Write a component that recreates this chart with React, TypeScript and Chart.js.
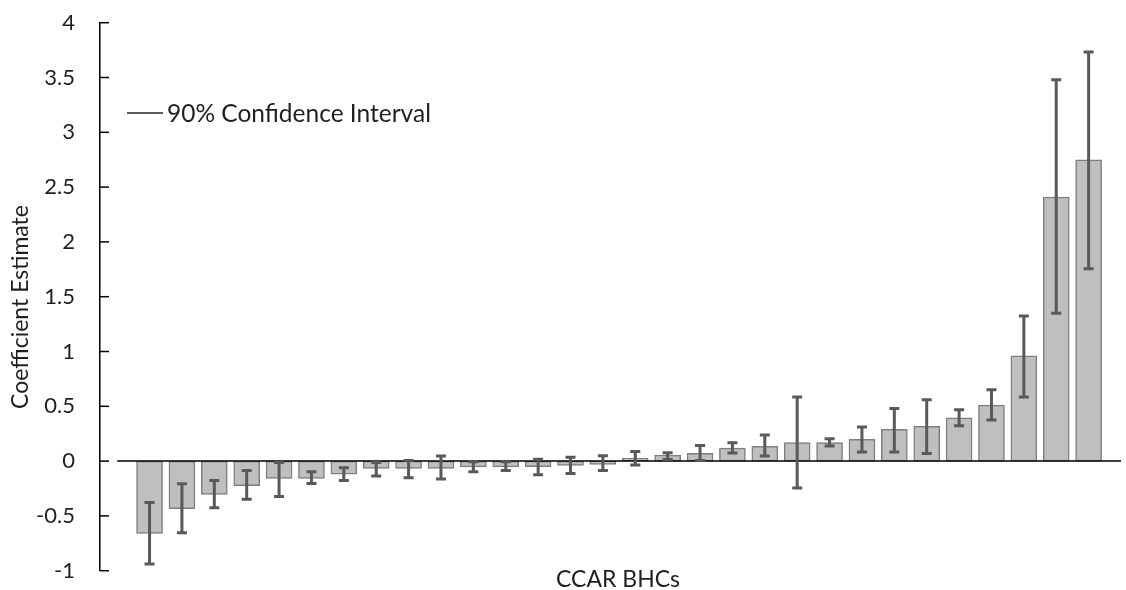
import React, { useEffect, useRef } from "react";
import { Chart, registerables } from "chart.js";

Chart.register(...registerables);

const bhcs: string[] = Array.from({ length: 30 }, (_, i) => `BHC ${i + 1}`);
const estimates: number[] = [
  -0.66, -0.435, -0.304, -0.225, -0.158, -0.158, -0.119, -0.067, -0.067, -0.067,
  -0.052, -0.052, -0.05, -0.04, -0.03, 0.025, 0.055, 0.07, 0.119, 0.134,
  0.17, 0.17, 0.198, 0.289, 0.317, 0.395, 0.511, 0.961, 2.409, 2.749,
];
const ciLow: number[] = [
  -0.94, -0.654, -0.426, -0.347, -0.322, -0.204, -0.176, -0.137, -0.152, -0.164,
  -0.097, -0.085, -0.125, -0.112, -0.085, -0.036, 0.015, 0.006, 0.073, 0.046,
  -0.246, 0.137, 0.082, 0.082, 0.07, 0.322, 0.374, 0.584, 1.348, 1.755,
];
const ciHigh: number[] = [
  -0.377, -0.207, -0.176, -0.085, -0.012, -0.097, -0.061, -0.012, 0.006, 0.046,
  -0.006, -0.006, 0.018, 0.034, 0.048, 0.088, 0.076, 0.143, 0.167, 0.237,
  0.584, 0.203, 0.31, 0.48, 0.559, 0.468, 0.651, 1.323, 3.479, 3.732,
];
const yTicks: number[] = [-1, -0.5, 0, 0.5, 1, 1.5, 2, 2.5, 3, 3.5, 4];
const yTickLabels: string[] = ["-1", "-0.5", "0", "0.5", "1", "1.5", "2", "2.5", "3", "3.5", "4"];
const yTitle = "Coefficient Estimate";
const xTitle = "CCAR BHCs";
const legendLabel = "90% Confidence Interval";

const FONT = "Lato";
const TEXT = "#1f1f1f";

const overlayPlugin = {
  id: "overlay",
  afterDatasetsDraw(chart: any) {
    const { ctx, chartArea, scales } = chart;
    const xs = scales.x;
    const ys = scales.y;
    ctx.save();
    // zero line
    const y0 = ys.getPixelForValue(0);
    ctx.strokeStyle = "#000";
    ctx.lineWidth = 1.5;
    ctx.beginPath();
    ctx.moveTo(xs.getPixelForValue(-1), y0);
    ctx.lineTo(chartArea.right, y0);
    ctx.stroke();
    // error bars
    ctx.strokeStyle = "#595959";
    ctx.lineWidth = 3;
    ctx.lineCap = "butt";
    for (let i = 0; i < estimates.length; i++) {
      const x = xs.getPixelForValue(i);
      const yl = ys.getPixelForValue(ciLow[i]);
      const yh = ys.getPixelForValue(ciHigh[i]);
      ctx.beginPath();
      ctx.moveTo(x, yl);
      ctx.lineTo(x, yh);
      ctx.moveTo(x - 5, yl);
      ctx.lineTo(x + 5, yl);
      ctx.moveTo(x - 5, yh);
      ctx.lineTo(x + 5, yh);
      ctx.stroke();
    }
    // inner y ticks
    ctx.strokeStyle = "#000";
    ctx.lineWidth = 1.5;
    for (const v of yTicks) {
      const y = ys.getPixelForValue(v);
      ctx.beginPath();
      ctx.moveTo(chartArea.left, y);
      ctx.lineTo(chartArea.left + 9, y);
      ctx.stroke();
    }
    // legend
    ctx.strokeStyle = "#262626";
    ctx.lineWidth = 1.5;
    ctx.beginPath();
    ctx.moveTo(127, 113);
    ctx.lineTo(163, 113);
    ctx.stroke();
    ctx.fillStyle = TEXT;
    ctx.font = `24.5px ${FONT}`;
    ctx.textBaseline = "middle";
    ctx.textAlign = "left";
    ctx.fillText(legendLabel, 167, 114);
    // axis titles
    ctx.font = `23px ${FONT}`;
    ctx.textAlign = "center";
    ctx.fillText(xTitle, 618, 580);
    ctx.translate(21, 307);
    ctx.rotate(-Math.PI / 2);
    ctx.fillText(yTitle, 0, 0);
    ctx.restore();
  },
};

export default function App() {
  const ref = useRef<HTMLCanvasElement | null>(null);
  useEffect(() => {
    document.body.style.margin = "0";
    if (!ref.current) return;
    const chart = new Chart(ref.current, {
      type: "bar",
      data: {
        labels: bhcs,
        datasets: [
          {
            label: "Coefficient Estimate",
            data: estimates.map((v, i) => ({ x: i, y: v })),
            backgroundColor: "#bfbfbf",
            borderColor: "#7f7f7f",
            borderWidth: 1.5,
            borderSkipped: false,
            barThickness: 26,
          },
        ],
      },
      options: {
        animation: false,
        responsive: true,
        maintainAspectRatio: false,
        layout: { padding: { top: 22.7, bottom: 19.3, right: 5, left: 0 } },
        plugins: { legend: { display: false }, tooltip: { enabled: false } },
        scales: {
          x: {
            type: "linear",
            min: -1.53,
            max: 30,
            offset: false,
            display: false,
            grid: { offset: false },
          },
          y: {
            type: "linear",
            min: -1,
            max: 4,
            afterFit(scale: any) {
              scale.width = 100;
            },
            afterBuildTicks(scale: any) {
              scale.ticks = yTicks.map((v) => ({ value: v }));
            },
            grid: { display: false, drawTicks: true, tickLength: 25 },
            border: { display: true, color: "#000", width: 1.5 },
            ticks: {
              padding: 0,
              color: TEXT,
              font: { family: FONT, size: 22 },
              callback: (v: any) => {
                const idx = yTicks.indexOf(Number(v));
                return idx >= 0 ? yTickLabels[idx] : "";
              },
            },
          },
        },
      },
      plugins: [overlayPlugin],
    });
    return () => chart.destroy();
  }, []);
  return (
    <div style={{ position: "relative", width: 1126, height: 590 }}>
      <canvas ref={ref} />
    </div>
  );
}
